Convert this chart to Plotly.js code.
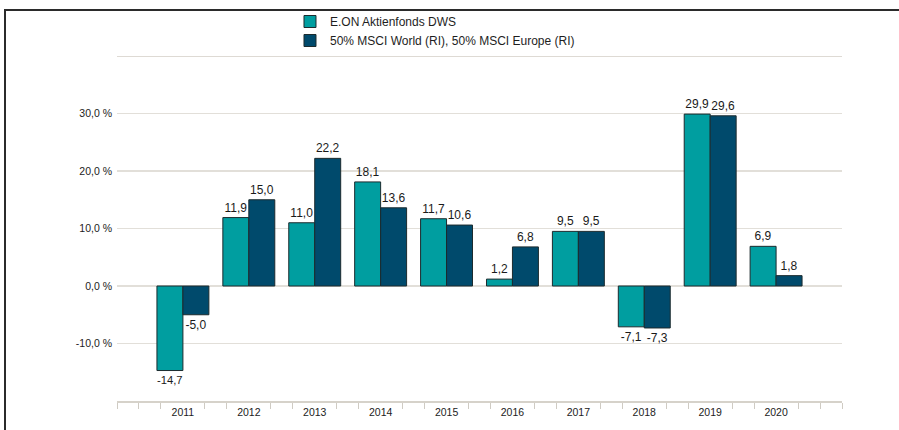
<!DOCTYPE html>
<html>
<head>
<meta charset="utf-8">
<script src="https://cdn.plot.ly/plotly-3.0.1.min.js"></script>
<style>
html,body{margin:0;padding:0;background:#fff;}
#wrap{position:relative;width:899px;height:430px;overflow:hidden;}
#chart{width:899px;height:430px;}
#frame{position:absolute;left:4px;top:9px;width:1000px;height:1000px;border-left:2px solid #2b2b2b;border-top:2px solid #2b2b2b;pointer-events:none;}
</style>
</head>
<body>
<div id="wrap"><div id="chart"></div><div id="frame"></div></div>
<script>
const years = [2011, 2012, 2013, 2014, 2015, 2016, 2017, 2018, 2019, 2020];
const fundName = "E.ON Aktienfonds DWS";
const benchName = "50% MSCI World (RI), 50% MSCI Europe (RI)";
const fundValues = [-14.7, 11.9, 11.0, 18.1, 11.7, 1.2, 9.5, -7.1, 29.9, 6.9];
const benchValues = [-5.0, 15.0, 22.2, 13.6, 10.6, 6.8, 9.5, -7.3, 29.6, 1.8];
const yTickVals = [-10, 0, 10, 20, 30, 40];
const yTickText = ["-10,0 %", "0,0 %", "10,0 %", "20,0 %", "30,0 %", ""];
const yRange = [-20, 40];

const fontFam = '"Liberation Sans", Arial, Helvetica, sans-serif';

// minor tick positions: thirds of each category slot, skipping labelled years
const xStart = years[0] - 1, xEnd = years[years.length - 1] + 1;
const minorVals = [];
for (let y = xStart; y < xEnd; y++) {
  if (y === xStart) minorVals.push(y);
  minorVals.push(y + 1/3, y + 2/3);
}
minorVals.push(xEnd);

const fmt = v => v.toFixed(1).replace('.', ',');

const traces = [
  {type:'bar', name: fundName, x: years, y: fundValues,
   text: fundValues.map(fmt), textposition:'outside', cliponaxis:false,
   textfont:{size:12, color:'#1a1a1a', family:fontFam},
   marker:{color:'#009EA0', line:{color:'#1c2b2e', width:1}}},
  {type:'bar', name: benchName, x: years, y: benchValues,
   text: benchValues.map(fmt), textposition:'outside', cliponaxis:false,
   textfont:{size:12, color:'#1a1a1a', family:fontFam},
   marker:{color:'#004A6C', line:{color:'#1c2b2e', width:1}}}
];

const layout = {
  width: 899, height: 430,
  margin: {l:117, r:57, t:56, b:29, pad:0, autoexpand:false},
  paper_bgcolor:'#fff', plot_bgcolor:'#fff',
  font:{family:fontFam, color:'#222', size:10},
  barmode:'group', bargap:0.212, bargroupgap:0,
  showlegend:true,
  legend:{x:0.2386, xanchor:'left', y:1.142, yanchor:'top', orientation:'v',
          font:{size:12, color:'#1e1e1e', family:fontFam}, bgcolor:'rgba(0,0,0,0)',
          tracegroupgap:0, itemclick:false},
  xaxis:{type:'linear', range:[xStart, xEnd], tickvals: years, ticktext: years.map(String),
         ticks:'', showgrid:false, zeroline:false, showline:true, linecolor:'#d6d2ca', linewidth:2,
         tickfont:{size:10.5, color:'#222'}, ticklabelstandoff:0,
         minor:{tickmode:'array', tickvals: minorVals, ticks:'outside', ticklen:6, tickwidth:1, tickcolor:'#cfcbc3', showgrid:false}},
  yaxis:{range: yRange, tickvals: yTickVals, ticktext: yTickText, ticks:'', showline:false,
         showgrid:true, gridcolor:'#e2dfd9', gridwidth:1.5, zeroline:false,
         tickfont:{size:10.5, color:'#222'}, ticklabelstandoff:4},
  shapes:[{type:'line', xref:'paper', yref:'y', x0:0, x1:1, y0:yRange[1], y1:yRange[1],
           line:{color:'#dedad4', width:2}, layer:'above'}]
};

Plotly.newPlot('chart', traces, layout, {displayModeBar:false, staticPlot:true});
</script>
</body>
</html>
